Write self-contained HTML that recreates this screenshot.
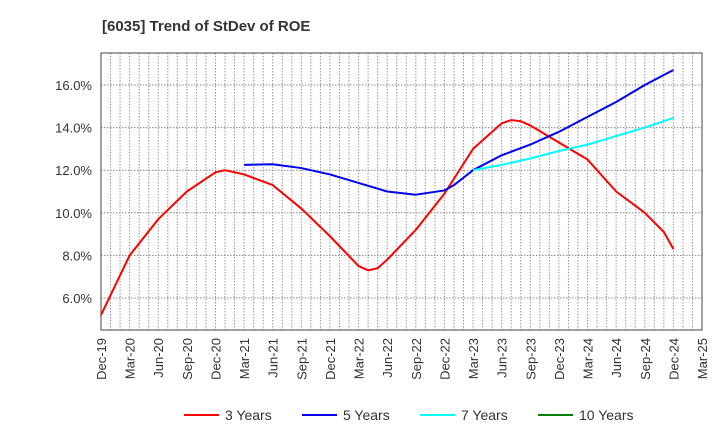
<!DOCTYPE html>
<html><head><meta charset="utf-8"><style>
body{margin:0;background:#fff;font-family:"Liberation Sans",sans-serif}
svg text{font-family:"Liberation Sans",sans-serif}
</style></head><body>
<svg width="720" height="440" xmlns="http://www.w3.org/2000/svg">
<text x="102" y="31" font-size="15" font-weight="bold" fill="#333">[6035]  Trend of StDev of ROE</text>
<g id="grid"></g><g id="axes"></g><g id="series"></g><g id="legend"></g>
</svg>
<script>
const xLabels=["Dec-19","Mar-20","Jun-20","Sep-20","Dec-20","Mar-21","Jun-21","Sep-21","Dec-21","Mar-22","Jun-22","Sep-22","Dec-22","Mar-23","Jun-23","Sep-23","Dec-23","Mar-24","Jun-24","Sep-24","Dec-24","Mar-25"];
const yTicks=[6,8,10,12,14,16];
const m3=[0,3,6,9,12,13,15,18,21,24,27,28,29,30,33,36,39,42,43,44,45,48,51,54,57,59,60];
const v3=[5.2,8.0,9.7,11.0,11.9,12.0,11.8,11.3,10.2,8.9,7.5,7.3,7.4,7.8,9.2,10.9,13.0,14.2,14.35,14.3,14.1,13.3,12.5,11.0,10.0,9.1,8.3];
const m5=[15,18,21,24,27,30,33,36,37,39,42,45,48,51,54,57,60];
const v5=[12.25,12.28,12.1,11.8,11.4,11.0,10.85,11.05,11.3,12.0,12.7,13.2,13.8,14.5,15.2,16.0,16.7];
const m7=[39,42,45,48,51,54,57,60];
const v7=[12.0,12.25,12.55,12.9,13.2,13.6,14.0,14.45];
const L=101,R=702,T=53,B=330,YMIN=4.5,YMAX=17.5,NM=63;
const xs=m=>L+(R-L)*m/NM, ys=v=>B-(B-T)*(v-YMIN)/(YMAX-YMIN);
const NS="http://www.w3.org/2000/svg";
function mk(tag,attrs,parent){const e=document.createElementNS(NS,tag);for(const k in attrs)e.setAttribute(k,attrs[k]);parent.appendChild(e);return e;}
const grid=document.getElementById('grid'),axes=document.getElementById('axes'),ser=document.getElementById('series'),leg=document.getElementById('legend');
for(let m=1;m<NM;m++){const l=mk('line',{x1:xs(m),x2:xs(m),y1:T,y2:B,stroke:'#999','stroke-dasharray':'1.5,1.5','stroke-width':1},grid);

}
yTicks.forEach(v=>{const l=mk('line',{x1:L,x2:R,y1:ys(v),y2:ys(v),stroke:'#888','stroke-dasharray':'1.5,1.5'},grid);


const t=mk('text',{x:L-9,y:ys(v)+5,'text-anchor':'end','font-size':13,fill:'#333'},axes);t.textContent=v.toFixed(1)+'%';

});
const fr=mk('rect',{x:L,y:T,width:R-L,height:B-T,fill:'none',stroke:'#444','stroke-width':1},axes);


xLabels.forEach((s,i)=>{const x=xs(i*3);const t=mk('text',{x:0,y:0,'text-anchor':'end','font-size':13,fill:'#333',transform:`translate(${x+5},${B+8}) rotate(-90)`},axes);t.textContent=s;

});
function line(ms,vs,c,name){const p=mk('polyline',{points:ms.map((m,i)=>xs(m)+','+ys(vs[i])).join(' '),fill:'none',stroke:c,'stroke-width':2,'stroke-linejoin':'round'},ser);

}
line(m3,v3,'#ff0000','line-3-years');line(m5,v5,'#0000ee','line-5-years');line(m7,v7,'#00ffff','line-7-years');
const items=[["3 Years","#ff0000",184],["5 Years","#0000ee",302],["7 Years","#00ffff",420],["10 Years","#008000",538]];
items.forEach(([n,c,x])=>{const g=mk('g',{},leg);

mk('line',{x1:x,x2:x+35,y1:415,y2:415,stroke:c,'stroke-width':2},g);const t=mk('text',{x:x+41,y:420,'font-size':14,fill:'#333'},g);t.textContent=n;});
</script>
</body></html>
